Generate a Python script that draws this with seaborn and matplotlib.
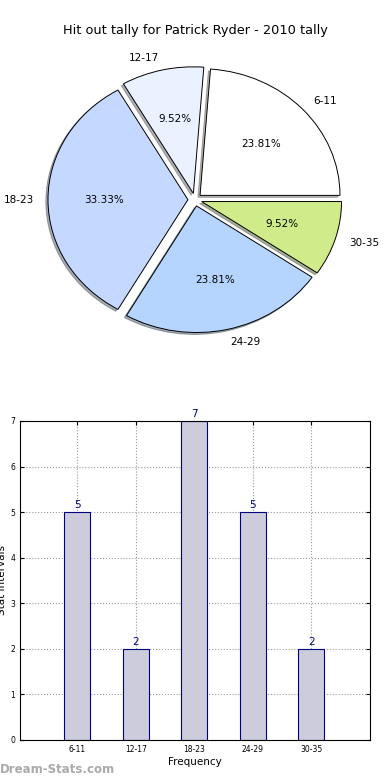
import matplotlib
matplotlib.use("Agg")
import matplotlib.pyplot as plt
import seaborn as sns
import pandas as pd

categories = ["6-11", "12-17", "18-23", "24-29", "30-35"]
values = [5, 2, 7, 5, 2]
pie_colors = ["#ffffff", "#eaf1ff", "#c5d8ff", "#b5d5ff", "#cfeb8a"]
title = "Hit out tally for Patrick Ryder - 2010 tally"
yticks = [0, 1, 2, 3, 4, 5, 6, 7]

plt.rcParams['font.family'] = ['DejaVu Sans']
fig = plt.figure(figsize=(3.9, 7.8), dpi=100)

# Pie
axp = fig.add_axes([0.0513, 0.541, 0.897, 0.406])
axp.pie(values, labels=categories, colors=pie_colors, explode=[0.05] * len(values),
        autopct="%1.2f%%", shadow=dict(ox=-0.011, oy=-0.011, shade=0.6), startangle=0,
        wedgeprops=dict(edgecolor="black", linewidth=0.7),
        textprops=dict(fontsize=7.5))
axp.set_aspect("auto")
axp.set_xlim(-1.25, 1.25)
axp.set_ylim(-1.25, 1.25)
fig.text(0.5, 0.961, title, ha="center", va="center", fontsize=9.3)

# Bars
axb = fig.add_axes([0.0513, 0.0513, 0.897, 0.409])
df = pd.DataFrame({"cat": categories, "val": values})
sns.barplot(data=df, x="cat", y="val", ax=axb, color="#ccccdd", edgecolor="navy",
            linewidth=0.8, width=0.45, saturation=1)
for p in axb.patches:
    p.set_facecolor("#ccccdd")
for i, v in enumerate(values):
    axb.text(i, v + 0.05, str(v), ha="center", va="bottom", color="navy", fontsize=7.5)
axb.set_xlim(-0.98, 5.0)
axb.set_ylim(0, 7)
axb.set_yticks(yticks)
axb.tick_params(axis="both", labelsize=5.5, direction="in", length=3,
                top=True, right=True)
axb.set_xlabel("Frequency", fontsize=7.5, labelpad=2)
axb.set_ylabel("Stat Intervals", fontsize=7.5, labelpad=2)
axb.grid(True, linestyle=":", color="#999999", linewidth=0.8)
axb.set_axisbelow(True)
for s in axb.spines.values():
    s.set_color("black")
    s.set_linewidth(0.8)

fig.text(0.0, 0.013, "Dream-Stats.com", color="#aaaaaa", fontsize=8.5,
         fontweight="bold", ha="left", va="center")

fig.savefig("out.png", dpi=100)
